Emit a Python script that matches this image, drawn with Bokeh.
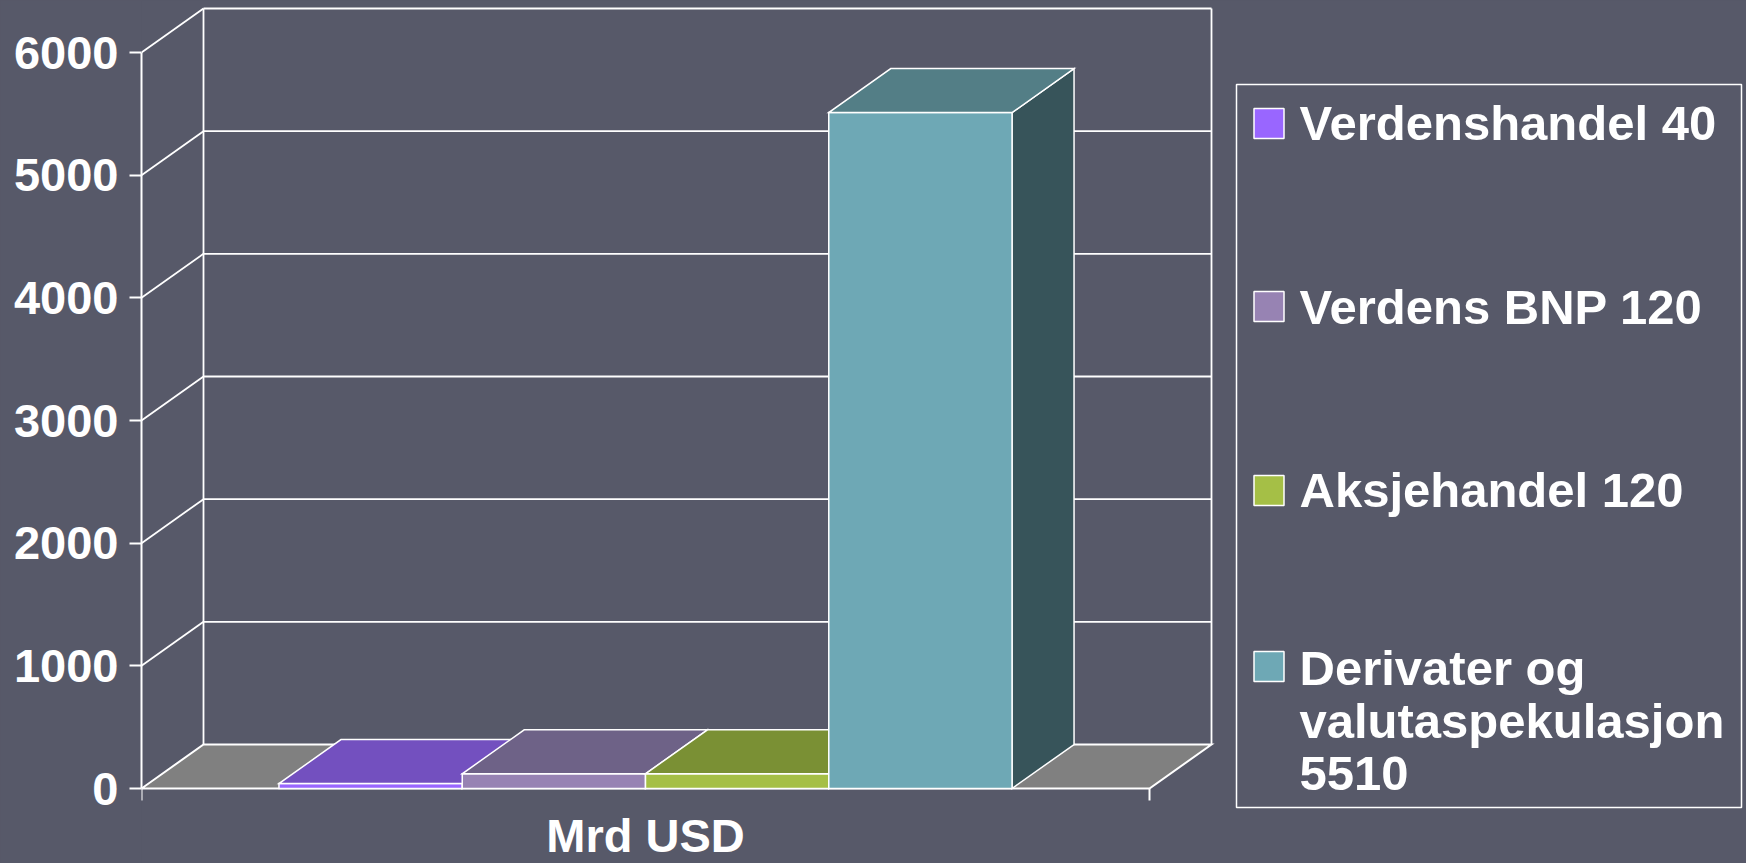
from bokeh.plotting import figure
from bokeh.models import Range1d, FixedTicker
from bokeh.core.properties import value
from bokeh.embed import file_html
from bokeh.resources import INLINE

# ---------------- data ----------------
category = "Mrd USD"
series = ["Verdenshandel", "Verdens BNP", "Aksjehandel", "Derivater og valutaspekulasjon"]
values = [40, 120, 120, 5510]
legend_labels = ["Verdenshandel 40", "Verdens BNP 120", "Aksjehandel 120",
                 "Derivater og\nvalutaspekulasjon\n5510"]
y_ticks = [0, 1000, 2000, 3000, 4000, 5000, 6000]

# ---------------- styles ----------------
front_colors = ["#9966FF", "#9783B3", "#A5BF46", "#6EA8B5"]
top_colors = ["#7350BF", "#6E6287", "#7A9034", "#537E86"]
side_colors = ["#4D3380", "#4C4460", "#556424", "#37545A"]
BG = "#575969"
FLOOR = "#808080"
FONT = "Liberation Sans"

W, H = 1746, 863
LEFT = 141                      # left panel (axis) width
FLOOR_PX = 1008                 # pixel width of one category (front floor edge)
ZERO_PX = 788                   # pixel row of value 0
KY = 736 / 6000                 # px per value unit
Y_END = ZERO_PX / KY
Y_START = -(H - ZERO_PX) / KY
XEND = (W - LEFT) / FLOOR_PX
DX = 62 / FLOOR_PX              # 3D depth offset (x units)
DY = 44 / KY                    # 3D depth offset (value units)
GAP = 1.5                       # gap width (fraction of a bar)
YMAX = y_ticks[-1]


def px_x(fx):
    """canvas pixel x -> data x"""
    return (fx - LEFT) / FLOOR_PX


def px_y(fy):
    """canvas pixel y (from top) -> data y"""
    return Y_END - fy / KY


p = figure(width=W, height=H, x_range=Range1d(0, XEND), y_range=Range1d(Y_START, Y_END),
           output_backend="svg", toolbar_location=None, x_axis_location=None,
           y_axis_location="left", min_border_left=LEFT, min_border_right=0,
           min_border_top=0, min_border_bottom=0)
p.background_fill_color = BG
p.border_fill_color = BG
p.outline_line_color = None
p.grid.grid_line_color = None

ax = p.yaxis[0]
ax.ticker = FixedTicker(ticks=y_ticks)
ax.bounds = (0, YMAX)
ax.axis_line_color = "white"
ax.axis_line_width = 2
ax.major_tick_line_color = "white"
ax.major_tick_line_width = 2
ax.major_tick_out = 12
ax.major_tick_in = 0
ax.minor_tick_line_color = None
ax.major_label_text_color = "white"
ax.major_label_text_font = FONT
ax.major_label_text_font_style = "bold"
ax.major_label_text_font_size = "47px"
ax.major_label_standoff = 11

# ---------------- walls / gridlines ----------------
back_xs = [[DX, 1 + DX] for v in y_ticks[1:]]
back_ys = [[v + DY, v + DY] for v in y_ticks[1:]]
side_xs = [[0, DX] for v in y_ticks[1:]]
side_ys = [[v, v + DY] for v in y_ticks[1:]]
vert_xs = [[DX, DX], [1 + DX, 1 + DX]]
vert_ys = [[DY, YMAX + DY], [DY, YMAX + DY]]
p.multi_line(xs=back_xs + side_xs + vert_xs, ys=back_ys + side_ys + vert_ys,
             line_color="white", line_width=1.8)

# floor
p.patch(x=[0, 1, 1 + DX, DX], y=[0, 0, DY, DY], fill_color=FLOOR,
        line_color="white", line_width=2, line_join="miter")

# bottom ticks at category boundaries
p.multi_line(xs=[[0, 0], [1, 1]], ys=[[0, -12 / KY], [0, -12 / KY]],
             line_color="white", line_width=2)

# ---------------- 3D bars ----------------
bw = 1 / (len(values) + GAP)
x_start = GAP / 2 * bw
pxs, pys, pcols = [], [], []
for i, v in enumerate(values):
    x0 = x_start + i * bw
    x1 = x0 + bw
    # right side
    pxs.append([x1, x1 + DX, x1 + DX, x1]); pys.append([0, DY, v + DY, v]); pcols.append(side_colors[i])
    # front
    pxs.append([x0, x1, x1, x0]); pys.append([0, 0, v, v]); pcols.append(front_colors[i])
    # top
    pxs.append([x0, x1, x1 + DX, x0 + DX]); pys.append([v, v, v + DY, v + DY]); pcols.append(top_colors[i])
p.patches(xs=pxs, ys=pys, fill_color=pcols, line_color="white", line_width=1.5, line_join="miter")

# category label
p.text(x=[0.5], y=[px_y(835)], text=[category], text_color="white",
       text_font=value(FONT), text_font_style="bold", text_font_size="47px",
       text_align="center", text_baseline="middle")

# ---------------- legend ----------------
p.quad(left=[px_x(1236)], right=[px_x(1741)], top=[px_y(84)], bottom=[px_y(807)],
       fill_color=None, line_color="white", line_width=1.5)
sw_y = [123, 306, 490, 666]
p.scatter(x=[px_x(1268.5)] * len(series), y=[px_y(v) for v in sw_y], marker="square",
          size=30, fill_color=front_colors, line_color="white", line_width=1.5)
first_mid = [122.5, 306.5, 489.5, 667.5]
line_gap = 52.8
tx, ty, tt = [], [], []
for lab, m in zip(legend_labels, first_mid):
    for j, line in enumerate(lab.split("\n")):
        tx.append(px_x(1299)); ty.append(px_y(m + j * line_gap)); tt.append(line)
p.text(x=tx, y=ty, text=tt, text_color="white", text_font=value(FONT),
       text_font_style="bold", text_font_size="49px", text_align="left",
       text_baseline="middle")

html = file_html(p, INLINE, title="Mrd USD")
html = html.replace("</head>", "<style>body{background:%s;}</style></head>" % BG)
open("out.html", "w").write(html)
